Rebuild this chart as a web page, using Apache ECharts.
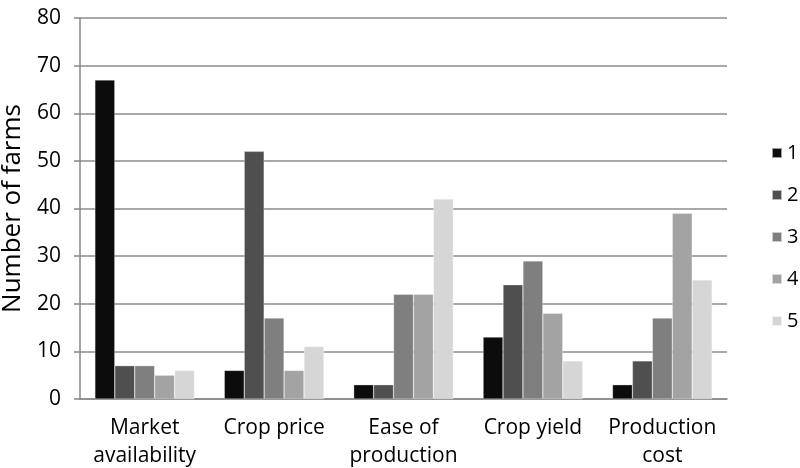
<!DOCTYPE html>
<html><head><meta charset="utf-8">
<script src="https://cdn.jsdelivr.net/npm/echarts@6/dist/echarts.min.js"></script>
<style>html,body{margin:0;padding:0;background:#fff}#c{width:800px;height:468px}</style>
</head><body><div id="c"></div>
<script>
const categories = ["Market\navailability", "Crop price", "Ease of\nproduction", "Crop yield", "Production\ncost"];
const seriesNames = ["1", "2", "3", "4", "5"];
const s1 = [67, 6, 3, 13, 3];
const s2 = [7, 52, 3, 24, 8];
const s3 = [7, 17, 22, 29, 17];
const s4 = [5, 6, 22, 18, 39];
const s5 = [6, 11, 42, 8, 25];
const colors = ["#0c0c0c", "#4f4f4f", "#7f7f7f", "#a3a3a3", "#d6d6d6"];
const values = [s1, s2, s3, s4, s5];
const font = "'Open Sans', sans-serif";
const chart = echarts.init(document.getElementById('c'), null, {renderer: 'canvas'});
chart.setOption({
  animation: false,
  grid: {left: 80, right: 73, top: 18, bottom: 69, containLabel: false, outerBoundsMode: 'none'},
  legend: {
    orient: 'vertical', left: 766, top: 137,
    itemWidth: 10, itemHeight: 10, itemGap: 20, icon: 'rect',
    textStyle: {fontFamily: font, fontSize: 20, color: '#000', lineHeight: 22},
    data: seriesNames
  },
  xAxis: {
    type: 'category', data: categories,
    axisLine: {lineStyle: {color: '#888', width: 1.5}},
    axisTick: {show: false},
    axisLabel: {fontFamily: font, fontSize: 21, color: '#000', lineHeight: 28, margin: 15, interval: 0}
  },
  yAxis: {
    type: 'value', min: 0, max: 80, interval: 10,
    name: 'Number of farms', nameLocation: 'middle', nameGap: 46, nameRotate: 90,
    nameTextStyle: {fontFamily: font, fontSize: 26, color: '#000'},
    axisLine: {show: true, lineStyle: {color: '#888', width: 1.5}},
    axisTick: {show: true, length: 6, lineStyle: {color: '#888', width: 1.5}},
    axisLabel: {fontFamily: font, fontSize: 21, color: '#000', margin: 19},
    splitLine: {lineStyle: {color: '#8c8c8c', width: 1.5}}
  },
  series: values.map((v, i) => ({
    name: seriesNames[i], type: 'bar', data: v,
    barGap: '0%', barCategoryGap: '23%',
    itemStyle: {color: colors[i], borderColor: 'rgba(255,255,255,0.6)', borderWidth: 0.5}
  }))
});
</script></body></html>
